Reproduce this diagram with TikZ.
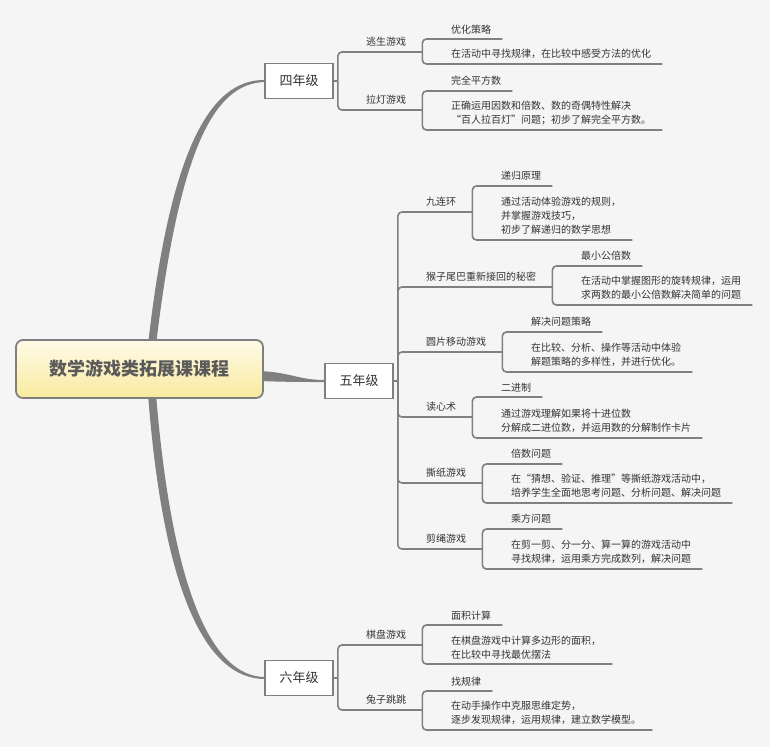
\documentclass[tikz,border=0pt]{standalone}
\usepackage{fontspec}
\setmainfont{Noto Sans CJK SC}
\definecolor{bg}{HTML}{F5F5F5}
\definecolor{lc}{HTML}{808080}
\definecolor{bc}{HTML}{7F7F7F}
\definecolor{txt}{HTML}{333333}
\definecolor{roottxt}{HTML}{5A5A5A}
\definecolor{rtop}{HTML}{FFFBE8}
\definecolor{rbot}{HTML}{F8EA9E}
\begin{document}
\begin{tikzpicture}[x=1pt,y=-1pt,
  conn/.style={draw=lc, line width=1.6pt, rounded corners=4pt},
  taper/.style={fill=lc, draw=none},
  grade/.style={draw=bc, line width=1.8pt, fill=white, minimum width=68pt, minimum height=35pt, inner sep=0pt, font=\fontsize{13}{15}\selectfont, text=txt},
  rootbox/.style={draw=bc, line width=1.8pt, rounded corners=7pt, top color=rtop, bottom color=rbot, minimum width=247pt, minimum height=58pt, inner sep=0pt, font=\fontsize{18}{20}\selectfont\bfseries, text=roottxt},
  lbl/.style={anchor=south west, inner xsep=0pt, inner ysep=5pt, align=left, font=\fontsize{10}{14}\selectfont, text=txt}
]
\useasboundingbox (0,0) rectangle (770,747);
\fill[bg] (0,0) rectangle (770,747);

% tapered main branches
\path[taper] (148,345) .. controls (170,150) and (210,79) .. (265,80)
  -- (265,82) .. controls (213,83) and (179,152) .. (156,345) -- cycle;
\path[taper] (148,394) .. controls (163,590) and (205,679) .. (265,679)
  -- (265,677) .. controls (212,677) and (172,590) .. (156,394) -- cycle;
\path[taper] (258,371) .. controls (290,372) and (298,380) .. (325,380)
  -- (325,382) .. controls (298,382) and (290,382) .. (258,381) -- cycle;

% main nodes
\node[rootbox] (root) at (139.5,369) {数学游戏类拓展课课程};
\node[grade] (g4) at (299,81) {四年级};
\node[grade] (g5) at (359,381) {五年级};
\node[grade] (g6) at (299,678) {六年级};

% grade 4
\node[lbl, text width=56pt] (a1) at (366,52) {逃生游戏};
\node[lbl, text width=56pt] (a2) at (366,110) {拉灯游戏};
\node[lbl, text width=51pt] (a1t) at (451,39) {优化策略};
\node[lbl, text width=211pt] (a1d) at (451,64) {在活动中寻找规律，在比较中感受方法的优化};
\node[lbl, text width=61pt] (a2t) at (451,91) {完全平方数};
\node[lbl, text width=211pt] (a2d) at (451,130) {正确运用因数和倍数、数的奇偶特性解决\\“百人拉百灯”问题；初步了解完全平方数。};

% grade 5
\node[lbl, text width=46pt] (b1) at (426,212) {九连环};
\node[lbl, text width=126pt] (b2) at (426,287) {猴子尾巴重新接回的秘密};
\node[lbl, text width=76pt] (b3) at (426,352) {圆片移动游戏};
\node[lbl, text width=46pt] (b4) at (426,417) {读心术};
\node[lbl, text width=56pt] (b5) at (426,483) {撕纸游戏};
\node[lbl, text width=56pt] (b6) at (426,549) {剪绳游戏};
\node[lbl, text width=51pt] (b1t) at (501,186) {递归原理};
\node[lbl, text width=131pt] (b1d) at (501,240) {通过活动体验游戏的规则，\\并掌握游戏技巧，\\初步了解递归的数学思想};
\node[lbl, text width=61pt] (b2t) at (581,266) {最小公倍数};
\node[lbl, text width=171pt] (b2d) at (581,305) {在活动中掌握图形的旋转规律，运用\\求两数的最小公倍数解决简单的问题};
\node[lbl, text width=71pt] (b3t) at (531,332) {解决问题策略};
\node[lbl, text width=161pt] (b3d) at (531,372) {在比较、分析、操作等活动中体验\\解题策略的多样性，并进行优化。};
\node[lbl, text width=41pt] (b4t) at (501,397) {二进制};
\node[lbl, text width=201pt] (b4d) at (501,438) {通过游戏理解如果将十进位数\\分解成二进位数，并运用数的分解制作卡片};
\node[lbl, text width=51pt] (b5t) at (511,464) {倍数问题};
\node[lbl, text width=221pt] (b5d) at (511,503) {在“猜想、验证、推理”等撕纸游戏活动中，\\培养学生全面地思考问题、分析问题、解决问题};
\node[lbl, text width=51pt] (b6t) at (511,529) {乘方问题};
\node[lbl, text width=191pt] (b6d) at (511,569) {在剪一剪、分一分、算一算的游戏活动中\\寻找规律，运用乘方完成数列，解决问题};

% grade 6
\node[lbl, text width=56pt] (c1) at (366,645) {棋盘游戏};
\node[lbl, text width=56pt] (c2) at (366,710) {兔子跳跳};
\node[lbl, text width=51pt] (c1t) at (451,625) {面积计算};
\node[lbl, text width=161pt] (c1d) at (451,664) {在棋盘游戏中计算多边形的面积，\\在比较中寻找最优摆法};
\node[lbl, text width=41pt] (c2t) at (451,691) {找规律};
\node[lbl, text width=201pt] (c2d) at (451,730) {在动手操作中克服思维定势，\\逐步发现规律，运用规律，建立数学模型。};

% connectors grade 4
\draw[conn] (g4.east) -- ++(4,0) coordinate (j4);
\draw[conn] (j4) |- (a1.south east);
\draw[conn] (j4) |- (a2.south east);
\draw[conn] (a1.south east) |- (a1t.south east);
\draw[conn] (a1.south east) |- (a1d.south east);
\draw[conn] (a2.south east) |- (a2t.south east);
\draw[conn] (a2.south east) |- (a2d.south east);

% connectors grade 5
\draw[conn] (g5.east) -- ++(4,0) coordinate (j5);
\foreach \n in {b1,b2,b3,b4,b5,b6}{
  \draw[conn] (j5) |- (\n.south east);
  \draw[conn] (\n.south east) |- (\n t.south east);
  \draw[conn] (\n.south east) |- (\n d.south east);
}

% connectors grade 6
\draw[conn] (g6.east) -- ++(4,0) coordinate (j6);
\draw[conn] (j6) |- (c1.south east);
\draw[conn] (j6) |- (c2.south east);
\draw[conn] (c1.south east) |- (c1t.south east);
\draw[conn] (c1.south east) |- (c1d.south east);
\draw[conn] (c2.south east) |- (c2t.south east);
\draw[conn] (c2.south east) |- (c2d.south east);
\end{tikzpicture}
\end{document}
